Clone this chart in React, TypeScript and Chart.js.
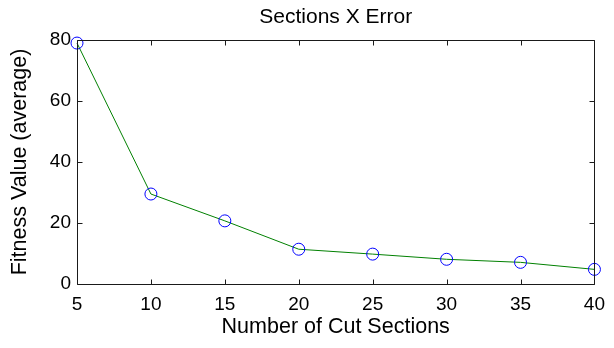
import React, { useEffect, useRef } from 'react';
import { Chart, registerables } from 'chart.js';

Chart.register(...registerables);

const sections = [5, 10, 15, 20, 25, 30, 35, 40];
const fitness = [79, 29.5, 20.7, 11.4, 9.8, 8.1, 7.1, 4.8];
const xTickValues = [5, 10, 15, 20, 25, 30, 35, 40];
const yTickValues = [0, 20, 40, 60, 80];
const titleText = 'Sections X Error';

const FONT = '"Liberation Sans", Arial, Helvetica, sans-serif';

const boxPlugin = {
  id: 'matlabBox',
  afterDraw(chart: any) {
    const { ctx, chartArea } = chart;
    const xs = chart.scales.x;
    const ys = chart.scales.y;
    const L = Math.round(chartArea.left) + 0.5;
    const R = Math.round(chartArea.right) + 0.5;
    const T = Math.round(chartArea.top) + 0.5;
    const B = Math.round(chartArea.bottom) + 0.5;
    const len = 5;
    ctx.save();
    ctx.strokeStyle = '#1a1a1a';
    ctx.lineWidth = 1;
    ctx.beginPath();
    ctx.rect(L, T, R - L, B - T);
    ctx.stroke();
    ctx.beginPath();
    xTickValues.forEach((v) => {
      const px = Math.round(xs.getPixelForValue(v)) + 0.5;
      ctx.moveTo(px, B);
      ctx.lineTo(px, B - len);
      ctx.moveTo(px, T);
      ctx.lineTo(px, T + len);
    });
    yTickValues.forEach((v) => {
      const py = Math.round(ys.getPixelForValue(v)) + 0.5;
      ctx.moveTo(L, py);
      ctx.lineTo(L + len, py);
      ctx.moveTo(R, py);
      ctx.lineTo(R - len, py);
    });
    ctx.stroke();
    // title centred over the plot area
    ctx.fillStyle = '#000';
    ctx.font = `21px ${FONT}`;
    ctx.textAlign = 'center';
    ctx.textBaseline = 'middle';
    ctx.fillText(titleText, (chartArea.left + chartArea.right) / 2, 17);
    ctx.restore();
  },
};

export default function App() {
  const ref = useRef<HTMLCanvasElement | null>(null);
  useEffect(() => {
    if (!ref.current) return;
    const chart = new Chart(ref.current, {
      type: 'line',
      data: {
        datasets: [
          {
            data: sections.map((s, i) => ({ x: s, y: fitness[i] })),
            borderColor: '#008000',
            borderWidth: 1,
            tension: 0,
            pointStyle: 'circle',
            pointRadius: 6,
            pointBorderWidth: 1,
            pointBorderColor: '#0000ff',
            pointBackgroundColor: 'rgba(0,0,0,0)',
            fill: false,
            clip: false,
          } as any,
        ],
      },
      options: {
        responsive: false,
        animation: false,
        layout: { padding: { left: 0, right: 11, top: 40, bottom: 0 } },
        plugins: {
          legend: { display: false },
          tooltip: { enabled: false },
          title: { display: false },
        },
        scales: {
          x: {
            type: 'linear',
            min: 5,
            max: 40,
            grid: { display: false, drawTicks: false },
            border: { display: false },
            ticks: {
              stepSize: 5,
              color: '#000',
              padding: 9,
              font: { family: FONT, size: 19 },
              maxRotation: 0,
            },
            title: {
              display: true,
              text: 'Number of Cut Sections',
              color: '#000',
              font: { family: FONT, size: 21.5 },
              padding: { top: 0, bottom: 8 },
            },
            afterFit: (s: any) => {
              s.height = 64;
            },
          },
          y: {
            type: 'linear',
            min: 0,
            max: 80,
            grid: { display: false, drawTicks: false },
            border: { display: false },
            ticks: {
              stepSize: 20,
              color: '#000',
              padding: 6,
              font: { family: FONT, size: 19 },
            },
            title: {
              display: true,
              text: 'Fitness Value (average)',
              color: '#000',
              font: { family: FONT, size: 21.5 },
              padding: { top: 7, bottom: 0 },
            },
            afterFit: (s: any) => {
              s.width = 77;
            },
          },
        },
      },
      plugins: [boxPlugin],
    });
    return () => chart.destroy();
  }, []);
  return (
    <div style={{ position: 'fixed', left: 0, top: 0, width: 614, height: 348, background: '#fff' }}>
      <canvas ref={ref} width={614} height={348} style={{ display: 'block' }} />
    </div>
  );
}
